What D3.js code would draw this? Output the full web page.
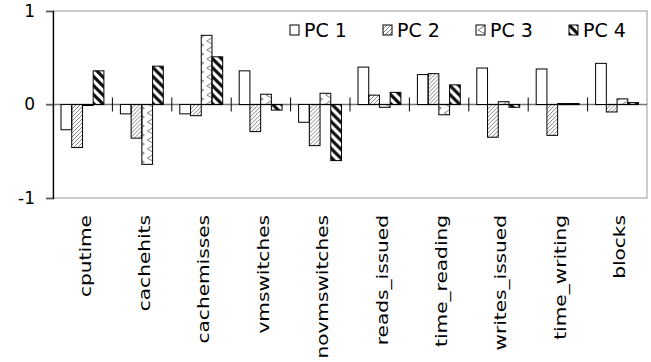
<!DOCTYPE html>
<html lang="en">
<head>
    <meta charset="UTF-8">
    <title>PC loadings</title>
    <script src="https://cdnjs.cloudflare.com/ajax/libs/d3/7.8.5/d3.min.js"></script>
    <style>
        body { margin: 0; background: #fff; }
        svg { font-family: "DejaVu Sans", Verdana, sans-serif; }
    </style>
</head>
<body>
    <div id="chart"></div>

    <script>
        const categories = ["cputime", "cachehits", "cachemisses", "vmswitches", "novmswitches",
            "reads_issued", "time_reading", "writes_issued", "time_writing", "blocks"];
        const series = ["PC 1", "PC 2", "PC 3", "PC 4"];
        const pc1 = [-0.27, -0.10, -0.10, 0.36, -0.19, 0.40, 0.32, 0.39, 0.38, 0.44];
        const pc2 = [-0.46, -0.36, -0.12, -0.29, -0.44, 0.10, 0.33, -0.35, -0.33, -0.08];
        const pc3 = [-0.01, -0.64, 0.74, 0.11, 0.12, -0.03, -0.11, 0.03, 0.01, 0.06];
        const pc4 = [0.36, 0.41, 0.51, -0.06, -0.60, 0.13, 0.21, -0.03, 0.01, 0.02];
        const yTicks = [-1, 0, 1];

        const values = [pc1, pc2, pc3, pc4];
        const data = categories.map((c, i) => ({
            cat: c,
            vals: series.map((s, j) => ({ s: s, v: values[j][i] }))
        }));

        const width = 651, height = 362;
        const margin = { top: 11, right: 4, bottom: 164, left: 53 };

        const svg = d3.select("#chart").append("svg")
            .attr("width", width)
            .attr("height", height);

        // fill patterns
        const defs = svg.append("defs");
        const p2 = defs.append("pattern").attr("id", "pat1")
            .attr("patternUnits", "userSpaceOnUse").attr("width", 4).attr("height", 4);
        p2.append("path").attr("d", "M-1,1 L1,-1 M0,4 L4,0 M3,5 L5,3")
            .attr("stroke", "#777").attr("stroke-width", 0.9);

        const p3 = defs.append("pattern").attr("id", "pat2")
            .attr("patternUnits", "userSpaceOnUse").attr("width", 11).attr("height", 9);
        p3.append("path").attr("d", "M10,0 L2,5 Q5,7 10,9")
            .attr("stroke", "#777").attr("stroke-width", 1).attr("fill", "none");

        const p4 = defs.append("pattern").attr("id", "pat3")
            .attr("patternUnits", "userSpaceOnUse").attr("width", 9).attr("height", 9);
        p4.append("path").attr("d", "M-2,-2 L11,11 M-2,7 L2,11 M7,-2 L11,2")
            .attr("stroke", "#111").attr("stroke-width", 3.2);

        const fills = ["#fff", "url(#pat1)", "url(#pat2)", "url(#pat3)"];

        const x0 = d3.scaleBand()
            .domain(categories)
            .range([margin.left, width - margin.right]);

        const x1 = d3.scaleBand()
            .domain(series)
            .range([8, x0.bandwidth() - 8.5]);

        const y = d3.scaleLinear()
            .domain([-1, 1])
            .range([height - margin.bottom, margin.top]);

        // plot frame
        svg.append("rect")
            .attr("x", margin.left)
            .attr("y", margin.top)
            .attr("width", width - margin.right - margin.left)
            .attr("height", y(-1) - y(1))
            .attr("fill", "none")
            .attr("stroke", "#999");

        // zero line
        svg.append("line")
            .attr("x1", margin.left - 7).attr("x2", width - margin.right)
            .attr("y1", y(0)).attr("y2", y(0))
            .attr("stroke", "#777").attr("stroke-width", 1.3);

        // bars
        const groups = svg.append("g").selectAll("g")
            .data(data)
            .join("g")
            .attr("transform", d => `translate(${x0(d.cat)},0)`);

        groups.selectAll("rect")
            .data(d => d.vals)
            .join("rect")
            .attr("x", d => x1(d.s))
            .attr("y", d => y(Math.max(0, d.v)))
            .attr("width", x1.bandwidth())
            .attr("height", d => Math.max(1, Math.abs(y(d.v) - y(0))))
            .attr("fill", (d, i) => fills[i])
            .attr("stroke", "#000")
            .attr("stroke-width", 1);

        // category tick marks crossing zero line
        svg.append("g").selectAll("line")
            .data(categories.slice(1))
            .join("line")
            .attr("x1", d => x0(d)).attr("x2", d => x0(d))
            .attr("y1", y(0) - 7).attr("y2", y(0) + 7)
            .attr("stroke", "#000");

        // y axis
        const yAxis = svg.append("g")
            .attr("transform", `translate(${margin.left},0)`)
            .call(d3.axisLeft(y).tickValues(yTicks).tickFormat(d => String(d)).tickSize(7).tickPadding(11));
        yAxis.select(".domain").attr("stroke", "#000").attr("stroke-width", 1.3);
        yAxis.selectAll("text").attr("font-size", "17px").attr("fill", "#000")
            .attr("font-family", "DejaVu Sans");
        yAxis.selectAll(".tick line").attr("stroke", "#555");

        // category labels
        svg.append("g").selectAll("text")
            .data(categories)
            .join("text")
            .attr("transform", d => `translate(${x0(d) + x0.bandwidth() / 2 + 2},${215}) rotate(-90) scale(1.22,1)`)
            .attr("text-anchor", "end")
            .attr("dominant-baseline", "central")
            .attr("font-size", "16.5px")
            .text(d => d);

        // legend
        const legend = svg.append("g").selectAll("g")
            .data(series)
            .join("g")
            .attr("transform", (d, i) => `translate(${290 + i * 93},25)`);
        legend.append("rect")
            .attr("width", 9).attr("height", 10)
            .attr("fill", (d, i) => fills[i])
            .attr("stroke", "#000");
        legend.append("text")
            .attr("x", 14).attr("y", 12)
            .attr("font-size", "19px")
            .text(d => d);
    </script>
</body>
</html>
